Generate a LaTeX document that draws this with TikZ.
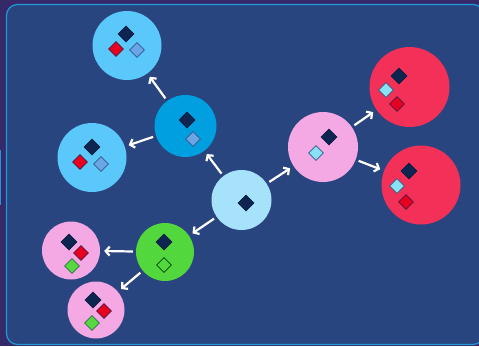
\documentclass[tikz,border=0pt]{standalone}
\usetikzlibrary{shapes.geometric,arrows.meta}
\definecolor{outerbg}{HTML}{36296A}
\definecolor{panel}{HTML}{294580}
\definecolor{panelline}{HTML}{1E9AD8}
\definecolor{cLight}{HTML}{5AC8FA}
\definecolor{cMid}{HTML}{009FE0}
\definecolor{cPale}{HTML}{A6E3FB}
\definecolor{cPink}{HTML}{F4A8E4}
\definecolor{cRed}{HTML}{F33057}
\definecolor{cGreen}{HTML}{52D83C}
\definecolor{dNavy}{HTML}{0D2550}
\definecolor{dRed}{HTML}{E8001F}
\definecolor{dBlue}{HTML}{6AA5E6}
\definecolor{dCyan}{HTML}{8AE0F5}
\definecolor{dGreen}{HTML}{57D840}
\tikzset{
  ball/.style={circle, inner sep=0pt, minimum size=#1},
  dia/.style={diamond, aspect=1, inner sep=0pt, minimum size=15pt, line width=0.8pt},
  navyd/.style={dia, fill=dNavy, draw=dNavy!80!black, minimum size=16pt},
  redd/.style={dia, fill=dRed, draw=dNavy!70!dRed},
  blued/.style={dia, fill=dBlue, draw=dNavy!60!dBlue},
  cyand/.style={dia, fill=dCyan, draw=dNavy!70!dCyan},
  greend/.style={dia, fill=dGreen, draw=dNavy!60!dGreen},
  hollowd/.style={dia, draw=dNavy!40!green!40!black},
  arr/.style={draw=white, line width=2.2pt, -{Straight Barb[length=4pt,width=9pt]}, shorten <=3pt, shorten >=4pt}
}
\begin{document}
\begin{tikzpicture}[x=1pt,y=-1pt]
\fill[outerbg] (0,0) rectangle (479,346);
\useasboundingbox (0,0) rectangle (479,346);
\draw[panelline, line width=0.8pt] (0.5,150) -- (0.5,205);
\draw[panelline, fill=panel, line width=1.2pt, rounded corners=11pt] (6.5,4.5) rectangle (484,344.5);

% circles
\node[ball=69pt, fill=cLight] (tl) at (127,45.5) {};
\node[ball=62pt, fill=cMid] (mb) at (185.5,126) {};
\node[ball=69pt, fill=cLight] (lf) at (92,157.5) {};
\node[ball=60pt, fill=cPale] (ct) at (241.5,200) {};
\node[ball=70pt, fill=cPink] (pr) at (323,147) {};
\node[ball=80pt, fill=cRed] (rt) at (409.5,87) {};
\node[ball=79pt, fill=cRed] (rb) at (421,185) {};
\node[ball=58pt, fill=cGreen] (gr) at (165,252) {};
\node[ball=58pt, fill=cPink] (pl) at (71,250.5) {};
\node[ball=57pt, fill=cPink] (pb) at (96,310) {};

% diamonds
\node[navyd] (tl1) at (126,34) {};
\node[redd] (tl2) at (116,49) {};
\node[blued] (tl3) at (137,50) {};

\node[navyd] (mb1) at (187,120) {};
\node[blued] (mb2) at (193,139) {};

\node[navyd] (lf1) at (92,147) {};
\node[redd] (lf2) at (80,162) {};
\node[blued] (lf3) at (101,164) {};

\node[navyd] (ct1) at (246,203) {};

\node[navyd] (pr1) at (329,137) {};
\node[cyand] (pr2) at (316,153) {};

\node[navyd] (rt1) at (399,76) {};
\node[cyand] (rt2) at (386,90) {};
\node[redd] (rt3) at (397,104) {};

\node[navyd] (rb1) at (409,171) {};
\node[cyand] (rb2) at (397,186) {};
\node[redd] (rb3) at (406,202) {};

\node[navyd] (gr1) at (164,242) {};
\node[hollowd] (gr2) at (164,265) {};

\node[navyd] (pl1) at (69,242) {};
\node[redd] (pl2) at (81,253) {};
\node[greend] (pl3) at (72,266) {};

\node[navyd] (pb1) at (93,300) {};
\node[redd] (pb2) at (104,311) {};
\node[greend] (pb3) at (92,323) {};

% arrows
\draw[arr] (ct) -- (mb);
\draw[arr] (mb) -- (tl);
\draw[arr] (mb) -- (lf);
\draw[arr] (ct) -- (pr);
\draw[arr] (pr) -- (rt);
\draw[arr] (pr) -- (rb);
\draw[arr] (ct) -- (gr);
\draw[arr] (gr) -- (pl);
\draw[arr] (gr) -- (pb);
\end{tikzpicture}
\end{document}
